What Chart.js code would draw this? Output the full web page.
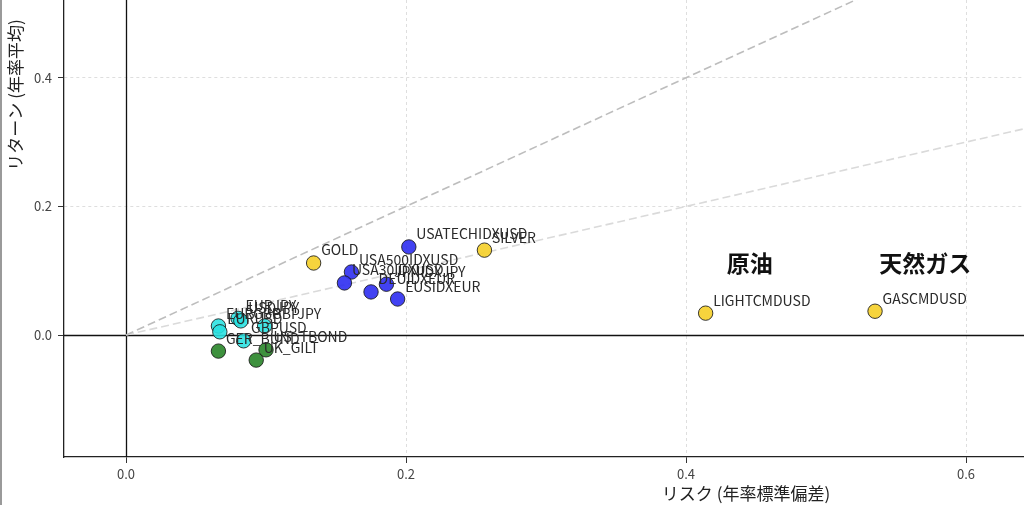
<!DOCTYPE html>
<html>
<head>
<meta charset="utf-8">
<script src="https://cdn.jsdelivr.net/npm/chart.js@4.4.1/dist/chart.umd.min.js"></script>
<style>
  html, body { margin: 0; padding: 0; background: #fff; }
  #wrap { width: 1024px; height: 505px; position: relative; }
</style>
</head>
<body>
<div id="wrap"><canvas id="c" width="1024" height="505"></canvas></div>
<script>
// ---- data ----
const commodityNames  = ['GOLD', 'SILVER', 'LIGHTCMDUSD', 'GASCMDUSD'];
const commodityRisk   = [0.134, 0.256, 0.414, 0.535];
const commodityReturn = [0.112, 0.132, 0.034, 0.037];

const indexNames  = ['USATECHIDXUSD', 'USA500IDXUSD', 'USA30IDXUSD', 'JPNIDXJPY', 'DEUIDXEUR', 'EUSIDXEUR'];
const indexRisk   = [0.202, 0.161, 0.156, 0.186, 0.175, 0.194];
const indexReturn = [0.137, 0.098, 0.081, 0.079, 0.067, 0.056];

const fxNames  = ['EURJPY', 'USDJPY', 'EURGBP', 'EURUSD', 'GBPJPY', 'GBPUSD'];
const fxRisk   = [0.080, 0.082, 0.066, 0.067, 0.099, 0.084];
const fxReturn = [0.026, 0.022, 0.014, 0.005, 0.014, -0.009];

const bondNames  = ['GER_BUND', 'UK_GILT', 'US_TBOND'];
const bondRisk   = [0.066, 0.093, 0.100];
const bondReturn = [-0.025, -0.039, -0.023];

const calloutText = ['原油', '天然ガス'];
const calloutRisk = [0.429, 0.538];
const calloutReturn = [0.112, 0.112];

const sharpeSlopes = [1.0, 0.5];

const xTicks = [0.0, 0.2, 0.4, 0.6];
const yTicks = [0.0, 0.2, 0.4];
const xRange = [-0.0443, 0.6414];
const yRange = [-0.1897, 0.521];

const xTitle = 'リスク (年率標準偏差)';
const yTitle = 'リターン (年率平均)';

// ---- helpers ----
function pts(xs, ys) { return xs.map((x, i) => ({ x: x, y: ys[i] })); }
const FONT = '"Noto Sans CJK JP", "DejaVu Sans", sans-serif';

function group(names, xs, ys, color) {
  return {
    type: 'scatter',
    data: pts(xs, ys),
    names: names,
    backgroundColor: color,
    borderColor: 'rgba(25,25,25,0.85)',
    borderWidth: 1,
    pointRadius: 7.2,
    order: 0
  };
}

const refLines = sharpeSlopes.map((s, i) => ({
  type: 'line',
  data: [{ x: 0, y: 0 }, { x: 1, y: s }],
  borderColor: i === 0 ? '#bdbdbd' : '#dadada',
  borderWidth: 1.6,
  borderDash: [8, 4],
  pointRadius: 0,
  fill: false,
  order: 5
}));

function noPad(s) { s.paddingLeft = 0; s.paddingRight = 0; s.paddingTop = 0; s.paddingBottom = 0; }

const labelPlugin = {
  id: 'labels',
  beforeDatasetsDraw(chart) {
    const { ctx, chartArea, scales } = chart;
    const x0 = Math.round(scales.x.getPixelForValue(0)) + 0.5;
    const y0 = Math.round(scales.y.getPixelForValue(0)) + 0.5;
    ctx.save();
    ctx.strokeStyle = '#111';
    ctx.lineWidth = 1.3;
    ctx.beginPath();
    ctx.moveTo(x0, chartArea.top); ctx.lineTo(x0, chartArea.bottom);
    ctx.moveTo(chartArea.left, y0); ctx.lineTo(chartArea.right, y0);
    ctx.stroke();
    ctx.restore();
  },
  afterDatasetsDraw(chart) {
    const { ctx, scales } = chart;
    ctx.save();
    ctx.font = '14px ' + FONT;
    ctx.fillStyle = '#2a2a2a';
    ctx.textAlign = 'left';
    ctx.textBaseline = 'alphabetic';
    chart.data.datasets.forEach((ds, di) => {
      if (!ds.names) return;
      const meta = chart.getDatasetMeta(di);
      meta.data.forEach((el, i) => {
        ctx.fillText(ds.names[i], el.x + 7.5, el.y - 7.5);
      });
    });
    ctx.font = 'bold 23px ' + FONT;
    ctx.fillStyle = '#111';
    ctx.textBaseline = 'middle';
    calloutText.forEach((t, i) => {
      ctx.fillText(t, scales.x.getPixelForValue(calloutRisk[i]), scales.y.getPixelForValue(calloutReturn[i]));
    });
    ctx.restore();
  },
  afterDraw(chart) {
    const { ctx } = chart;
    ctx.save();
    ctx.font = '17px ' + FONT;
    ctx.fillStyle = '#222';
    ctx.textAlign = 'center';
    ctx.textBaseline = 'middle';
    ctx.fillText(xTitle, 746, 494);
    ctx.translate(16, 95);
    ctx.rotate(-Math.PI / 2);
    ctx.fillText(yTitle, 0, 0);
    ctx.restore();
    ctx.save();
    ctx.strokeStyle = '#9a9a9a';
    ctx.lineWidth = 2;
    ctx.beginPath();
    ctx.moveTo(1, 0); ctx.lineTo(1, 505);
    ctx.stroke();
    ctx.restore();
  }
};

const gridOpts = {
  color: '#dedede',
  lineWidth: 1,
  drawTicks: true,
  tickLength: 6,
  tickColor: '#333',
  tickWidth: 1,
  tickBorderDash: []
};

new Chart(document.getElementById('c'), {
  type: 'scatter',
  data: {
    datasets: [
      group(commodityNames, commodityRisk, commodityReturn, 'rgba(245,208,45,0.92)'),
      group(indexNames, indexRisk, indexReturn, 'rgba(40,40,240,0.88)'),
      group(fxNames, fxRisk, fxReturn, 'rgba(40,225,225,0.88)'),
      group(bondNames, bondRisk, bondReturn, 'rgba(35,130,35,0.88)'),
      ...refLines
    ]
  },
  options: {
    responsive: false,
    animation: false,
    devicePixelRatio: 1,
    layout: { padding: 0, autoPadding: false },
    plugins: { legend: { display: false }, tooltip: { enabled: false } },
    scales: {
      x: {
        type: 'linear',
        min: xRange[0], max: xRange[1],
        afterFit(s) { s.height = 48; noPad(s); },
        afterBuildTicks(s) { s.ticks = xTicks.map(v => ({ value: v })); },
        ticks: { color: '#444', font: { family: FONT, size: 13 }, padding: 3,
                 maxRotation: 0, autoSkip: false, callback: v => Number(v).toFixed(1) },
        grid: Object.assign({}, gridOpts),
        border: { display: true, color: '#222', width: 1.3, dash: [3, 3] }
      },
      y: {
        type: 'linear',
        min: yRange[0], max: yRange[1],
        afterFit(s) { s.width = 64; noPad(s); },
        afterBuildTicks(s) { s.ticks = yTicks.map(v => ({ value: v })); },
        ticks: { color: '#444', font: { family: FONT, size: 13 }, padding: 6,
                 autoSkip: false, callback: v => Number(v).toFixed(1) },
        grid: Object.assign({}, gridOpts),
        border: { display: true, color: '#222', width: 1.3, dash: [3, 3] }
      }
    }
  },
  plugins: [labelPlugin]
});
</script>
</body>
</html>
